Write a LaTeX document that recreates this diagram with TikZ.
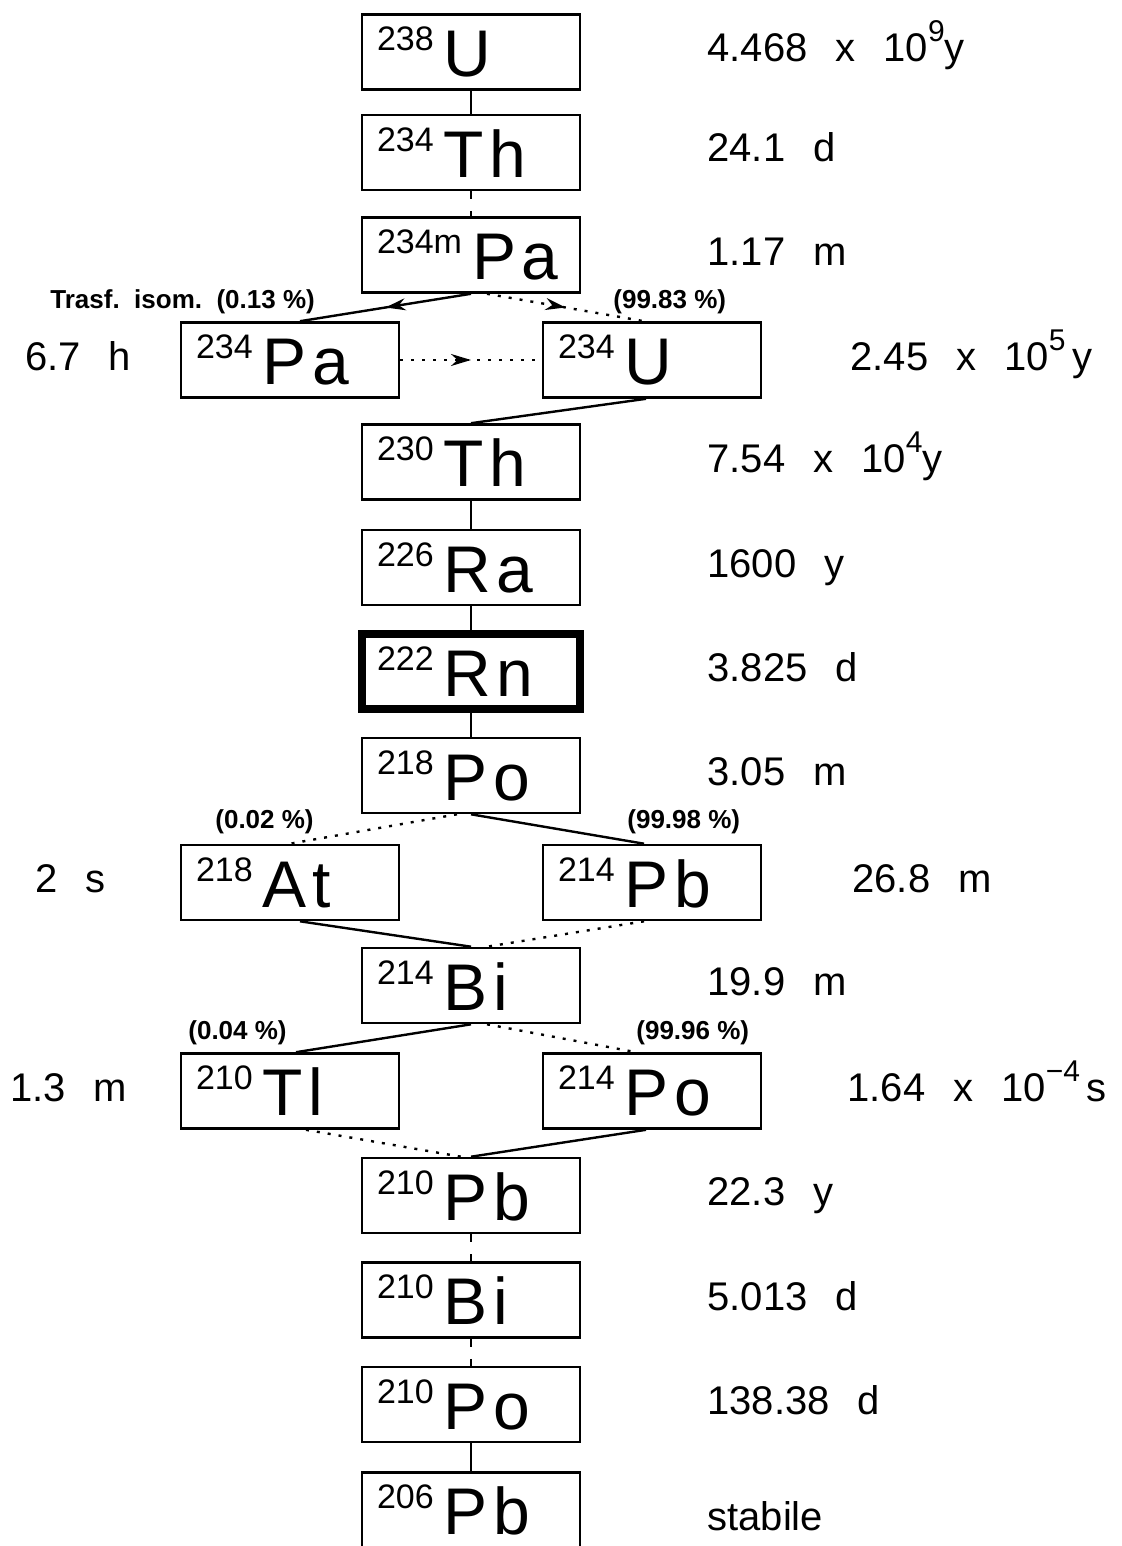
\documentclass[tikz,border=0pt]{standalone}
\usepackage{fontspec}
\setmainfont{Liberation Sans}
\newfontfamily\symfont[LetterSpace=8]{Liberation Sans}
\usetikzlibrary{arrows.meta,decorations.markings}

\newcommand\nuc[2]{\raisebox{13pt}{\fontsize{17}{17}\selectfont #1}\hspace{5pt}{\symfont\fontsize{33}{33}\selectfont #2}}
\newcommand\pw[1]{\raisebox{0.5em}{\fontsize{15}{15}\selectfont #1}}
\newcommand\gapx{\hspace{0.7em}}

\begin{document}
\begin{tikzpicture}[x=0.5pt, y=-0.5pt,
		nuclide/.style={draw, line width=1.3pt, minimum width=109pt, minimum height=37.5pt,
			inner xsep=7.5pt, inner ysep=0pt, text width=94pt, align=left},
		alpha/.style={line width=1.2pt},
		beta/.style={line width=1.2pt, dash pattern=on 1.5pt off 4pt},
		betav/.style={line width=1.2pt, dash pattern=on 4pt off 6pt},
		midarrow/.style={postaction={decorate}, decoration={markings,
			mark=at position 0.5 with {\arrow[solid]{Stealth[length=10pt,width=6pt]}}}},
		halflife/.style={font=\fontsize{20}{20}\selectfont, anchor=base west, inner sep=0pt},
		pct/.style={font=\fontsize{13}{13}\selectfont\bfseries, anchor=base west, inner sep=0pt}]
		\useasboundingbox (0,0) rectangle (1122,1546);

		\node[nuclide] (u238) at (471, 52) {\nuc{238}{U}};
		\node[nuclide] (th234) at (471, 152.5) {\nuc{234}{Th}};
		\node[nuclide] (pa234m) at (471, 255) {\nuc{234m}{Pa}};
		\node[nuclide] (pa234) at (290, 360) {\nuc{234}{Pa}};
		\node[nuclide] (u234) at (652, 360) {\nuc{234}{U}};
		\node[nuclide] (th230) at (471, 462) {\nuc{230}{Th}};
		\node[nuclide] (ra226) at (471, 567.5) {\nuc{226}{Ra}};
		\node[nuclide, line width=4pt] (rn222) at (471, 671.5) {\nuc{222}{Rn}};
		\node[nuclide] (po218) at (471, 775.5) {\nuc{218}{Po}};
		\node[nuclide] (at218) at (290, 882.5) {\nuc{218}{At}};
		\node[nuclide] (pb214) at (652, 882.5) {\nuc{214}{Pb}};
		\node[nuclide] (bi214) at (471, 985.5) {\nuc{214}{Bi}};
		\node[nuclide] (tl210) at (290, 1091) {\nuc{210}{Tl}};
		\node[nuclide] (po214) at (652, 1091) {\nuc{214}{Po}};
		\node[nuclide] (pb210) at (471, 1195.5) {\nuc{210}{Pb}};
		\node[nuclide] (bi210) at (471, 1300) {\nuc{210}{Bi}};
		\node[nuclide] (po210) at (471, 1404.5) {\nuc{210}{Po}};
		\node[nuclide] (pb206) at (471, 1510) {\nuc{206}{Pb}};

		\node[halflife] (t-u238) at (707, 62) {4.468\gapx x\gapx 10\pw{9}y};
		\node[halflife] (t-th234) at (707, 162) {24.1\gapx d};
		\node[halflife] (t-pa234m) at (707, 265) {1.17\gapx m};
		\node[halflife] (t-pa234) at (25, 370) {6.7\gapx h};
		\node[halflife] (t-u234) at (850, 370) {2.45\gapx x\gapx 10\pw{5}\,y};
		\node[halflife] (t-th230) at (707, 472) {7.54\gapx x\gapx 10\pw{4}y};
		\node[halflife] (t-ra226) at (707, 577) {1600\gapx y};
		\node[halflife] (t-rn222) at (707, 681) {3.825\gapx d};
		\node[halflife] (t-po218) at (707, 785) {3.05\gapx m};
		\node[halflife] (t-at218) at (35, 892) {2\gapx s};
		\node[halflife] (t-pb214) at (852, 892) {26.8\gapx m};
		\node[halflife] (t-bi214) at (707, 995) {19.9\gapx m};
		\node[halflife] (t-tl210) at (10, 1101) {1.3\gapx m};
		\node[halflife] (t-po214) at (847, 1101) {1.64\gapx x\gapx 10\pw{−4}\,s};
		\node[halflife] (t-pb210) at (707, 1205) {22.3\gapx y};
		\node[halflife] (t-bi210) at (707, 1310) {5.013\gapx d};
		\node[halflife] (t-po210) at (707, 1414) {138.38\gapx d};
		\node[halflife] (t-pb206) at (707, 1530) {stabile};

		\node[pct] (p-pa234) at (50, 308) {Trasf.\ \ isom.\ \ (0.13 \%)};
		\node[pct] (p-u234) at (613, 308) {(99.83 \%)};
		\node[pct] (p-at218) at (215, 828) {(0.02 \%)};
		\node[pct] (p-pb214) at (627, 828) {(99.98 \%)};
		\node[pct] (p-tl210) at (188, 1039) {(0.04 \%)};
		\node[pct] (p-po214) at (636, 1039) {(99.96 \%)};

		\draw[alpha] (u238.south) -- (th234.north);
		\draw[betav] (th234.south) -- (pa234m.north);
		\draw[alpha, midarrow] (pa234m.south) -- ([xshift=5pt]pa234.north);
		\draw[beta, midarrow] ([xshift=8pt]pa234m.south) -- ([xshift=-4pt]u234.north);
		\draw[beta, midarrow] (pa234.east) -- (u234.west);
		\draw[alpha] ([xshift=-3pt]u234.south) -- (th230.north);
		\draw[alpha] (th230.south) -- (ra226.north);
		\draw[alpha] (ra226.south) -- (rn222.north);
		\draw[alpha] (rn222.south) -- (po218.north);
		\draw[beta] ([xshift=-7pt]po218.south) -- (at218.north);
		\draw[alpha] (po218.south) -- ([xshift=-4pt]pb214.north);
		\draw[alpha] ([xshift=5pt]at218.south) -- (bi214.north);
		\draw[beta] ([xshift=-4pt]pb214.south) -- ([xshift=8pt]bi214.north);
		\draw[alpha] (bi214.south) -- ([xshift=3pt]tl210.north);
		\draw[beta] ([xshift=8pt]bi214.south) -- ([xshift=-8pt]po214.north);
		\draw[beta] ([xshift=8pt]tl210.south) -- ([xshift=-5pt]pb210.north);
		\draw[alpha] ([xshift=-3pt]po214.south) -- (pb210.north);
		\draw[betav] (pb210.south) -- (bi210.north);
		\draw[betav] (bi210.south) -- (po210.north);
		\draw[alpha] (po210.south) -- (pb206.north);
	\end{tikzpicture}
\end{document}
